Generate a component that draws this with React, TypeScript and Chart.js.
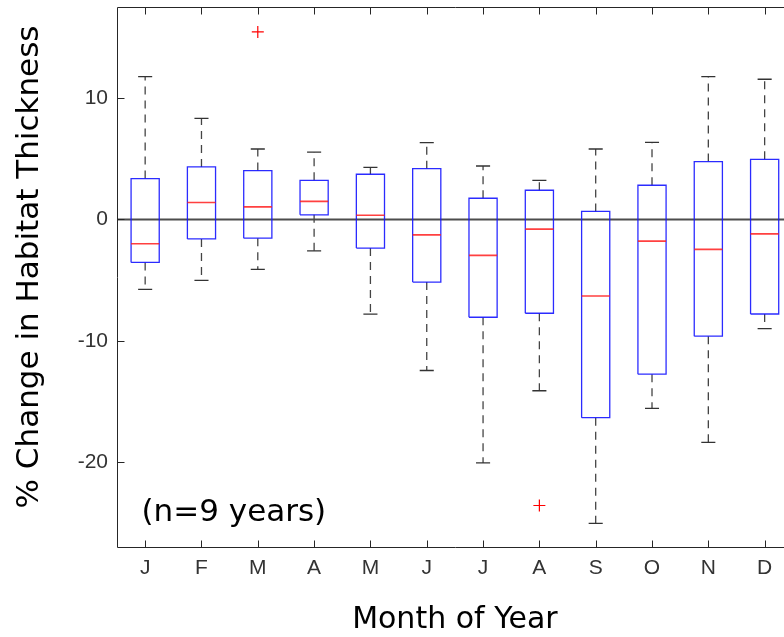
import React, { useEffect, useRef } from 'react';
import { Chart, registerables } from 'chart.js';

Chart.register(...registerables);

// ---- data ----
const months = ['J', 'F', 'M', 'A', 'M', 'J', 'J', 'A', 'S', 'O', 'N', 'D'];
const upperWhisker = [11.78, 8.33, 5.81, 5.56, 4.3, 6.33, 4.41, 3.23, 5.81, 6.36, 11.78, 11.56];
const upperQuartile = [3.37, 4.33, 4.03, 3.23, 3.73, 4.19, 1.75, 2.41, 0.66, 2.82, 4.77, 4.96];
const medians = [-2.0, 1.4, 1.04, 1.5, 0.35, -1.27, -2.96, -0.8, -6.31, -1.78, -2.47, -1.18];
const lowerQuartile = [-3.54, -1.6, -1.54, 0.38, -2.36, -5.16, -8.06, -7.73, -16.34, -12.75, -9.62, -7.79];
const lowerWhisker = [-5.76, -5.02, -4.11, -2.58, -7.81, -12.45, -20.07, -14.12, -25.06, -15.57, -18.37, -9.0];
const outlierMonths = [3, 8];
const outlierValues = [15.46, -23.58];
const yTickValues = [-20, -10, 0, 10];
const yMin = -27;
const yMax = 17.5;
const xMin = 0.5;
const xMax = 12.5;

const yTitle = '% Change in Habitat Thickness';
const xTitle = 'Month of Year';
const noteText = '(n=9 years)';

const BOX_HALF = 0.25;
const CAP_HALF = 0.125;

type P = { x: number; y: number | null };
const gap = (x: number): P => ({ x, y: null });

function boxPoints(): P[] {
  const pts: P[] = [];
  months.forEach((_, i) => {
    const x = i + 1;
    const lo = lowerQuartile[i];
    const hi = upperQuartile[i];
    pts.push({ x: x - BOX_HALF, y: lo }, { x: x + BOX_HALF, y: lo }, { x: x + BOX_HALF, y: hi }, { x: x - BOX_HALF, y: hi }, { x: x - BOX_HALF, y: lo }, gap(x));
  });
  return pts;
}
function medianPoints(): P[] {
  const pts: P[] = [];
  months.forEach((_, i) => {
    const x = i + 1;
    pts.push({ x: x - BOX_HALF, y: medians[i] }, { x: x + BOX_HALF, y: medians[i] }, gap(x));
  });
  return pts;
}
function whiskerPoints(): P[] {
  const pts: P[] = [];
  months.forEach((_, i) => {
    const x = i + 1;
    pts.push({ x, y: upperQuartile[i] }, { x, y: upperWhisker[i] }, gap(x));
    pts.push({ x, y: lowerQuartile[i] }, { x, y: lowerWhisker[i] }, gap(x));
  });
  return pts;
}
function capPoints(): P[] {
  const pts: P[] = [];
  months.forEach((_, i) => {
    const x = i + 1;
    pts.push({ x: x - CAP_HALF, y: upperWhisker[i] }, { x: x + CAP_HALF, y: upperWhisker[i] }, gap(x));
    pts.push({ x: x - CAP_HALF, y: lowerWhisker[i] }, { x: x + CAP_HALF, y: lowerWhisker[i] }, gap(x));
  });
  return pts;
}

const AXIS_COLOR = '#262626';

const framePlugin = {
  id: 'matlabFrame',
  afterDraw(chart: any) {
    const { ctx, chartArea: a, scales } = chart;
    const L = Math.round(a.left) + 0.5;
    const R = Math.round(a.right) + 0.5;
    const T = Math.round(a.top) + 0.5;
    const B = Math.round(a.bottom) + 0.5;
    ctx.save();
    ctx.strokeStyle = AXIS_COLOR;
    ctx.lineWidth = 1;
    ctx.beginPath();
    ctx.moveTo(L, T);
    ctx.lineTo(R, T);
    ctx.lineTo(R, B);
    ctx.lineTo(L, B);
    ctx.closePath();
    ctx.stroke();
    // inward ticks
    ctx.beginPath();
    yTickValues.forEach((v) => {
      const py = Math.round(scales.y.getPixelForValue(v)) + 0.5;
      ctx.moveTo(L, py);
      ctx.lineTo(L + 7, py);
      ctx.moveTo(R, py);
      ctx.lineTo(R - 7, py);
    });
    months.forEach((_, i) => {
      const px = Math.round(scales.x.getPixelForValue(i + 1)) + 0.5;
      ctx.moveTo(px, B);
      ctx.lineTo(px, B - 7);
      ctx.moveTo(px, T);
      ctx.lineTo(px, T + 7);
    });
    ctx.stroke();

    // titles and note
    ctx.fillStyle = '#000';
    ctx.font = '31px "DejaVu Sans"';
    ctx.textAlign = 'center';
    ctx.textBaseline = 'middle';
    ctx.save();
    ctx.translate(29.5, 267);
    ctx.rotate(-Math.PI / 2);
    ctx.fillText(yTitle, 0, 0);
    ctx.restore();

    ctx.font = '30px "DejaVu Sans"';
    ctx.fillText(xTitle, (a.left + a.right) / 2, 620);

    ctx.font = '31px "DejaVu Sans"';
    ctx.textAlign = 'left';
    ctx.fillText(noteText, 141.5, 513);
    ctx.restore();
  },
};

export default function App() {
  const ref = useRef<HTMLCanvasElement>(null);

  useEffect(() => {
    const chart = new Chart(ref.current as HTMLCanvasElement, {
      type: 'scatter',
      data: {
        datasets: [
          {
            label: 'outliers',
            data: outlierMonths.map((m, i) => ({ x: m, y: outlierValues[i] })),
            showLine: false,
            pointStyle: 'cross',
            pointRadius: 6,
            pointBorderWidth: 1.2,
            borderColor: '#ff0000',
            backgroundColor: '#ff0000',
          },
          {
            label: 'medians',
            data: medianPoints() as any,
            showLine: true,
            borderColor: 'rgba(255,30,30,0.85)',
            borderWidth: 1.7,
            pointRadius: 0,
          },
          {
            label: 'boxes',
            data: boxPoints() as any,
            showLine: true,
            borderColor: 'rgba(20,20,255,0.9)',
            borderWidth: 1.3,
            pointRadius: 0,
          },
          {
            label: 'caps',
            data: capPoints() as any,
            showLine: true,
            borderColor: '#333333',
            borderWidth: 1.3,
            pointRadius: 0,
          },
          {
            label: 'whiskers',
            data: whiskerPoints() as any,
            showLine: true,
            borderColor: '#444444',
            borderWidth: 1.3,
            borderDash: [8, 6],
            pointRadius: 0,
          },
          {
            label: 'zero',
            data: [{ x: xMin, y: 0 }, { x: xMax, y: 0 }],
            showLine: true,
            borderColor: 'rgba(0,0,0,0.7)',
            borderWidth: 1.8,
            pointRadius: 0,
          },
        ],
      },
      options: {
        responsive: false,
        devicePixelRatio: 1,
        animation: false,
        events: [],
        spanGaps: false,
        layout: { padding: { left: 0, top: 5, right: 4, bottom: 0 } },
        plugins: {
          legend: { display: false },
          tooltip: { enabled: false },
        },
        scales: {
          x: {
            type: 'linear',
            position: 'bottom',
            min: xMin,
            max: xMax,
            grid: { display: false, drawTicks: false },
            border: { display: false },
            afterBuildTicks: (s: any) => {
              s.ticks = months.map((_, i) => ({ value: i + 1 }));
            },
            afterFit: (s: any) => {
              s.height = 90;
              s.paddingLeft = 0;
              s.paddingRight = 0;
            },
            ticks: {
              autoSkip: false,
              maxRotation: 0,
              padding: 9,
              color: '#333333',
              font: { family: '"Liberation Sans", Arial, sans-serif', size: 21 },
              callback: (v: any) => months[Number(v) - 1] ?? '',
            },
          },
          y: {
            type: 'linear',
            position: 'left',
            min: yMin,
            max: yMax,
            grid: { display: false, drawTicks: false },
            border: { display: false },
            afterBuildTicks: (s: any) => {
              s.ticks = yTickValues.map((v) => ({ value: v }));
            },
            afterFit: (s: any) => {
              s.width = 117;
              s.paddingTop = 0;
              s.paddingBottom = 0;
            },
            ticks: {
              padding: 9,
              color: '#333333',
              font: { family: '"Liberation Sans", Arial, sans-serif', size: 21 },
              callback: (v: any) => String(v),
            },
          },
        },
      },
      plugins: [framePlugin],
    } as any);
    return () => chart.destroy();
  }, []);

  return (
    <div
      style={{
        position: 'fixed',
        left: 0,
        top: 0,
        width: 784,
        height: 637,
        overflow: 'hidden',
        background: '#ffffff',
      }}
    >
      <canvas ref={ref} width={800} height={637} style={{ display: 'block', width: 800, height: 637 }} />
    </div>
  );
}
